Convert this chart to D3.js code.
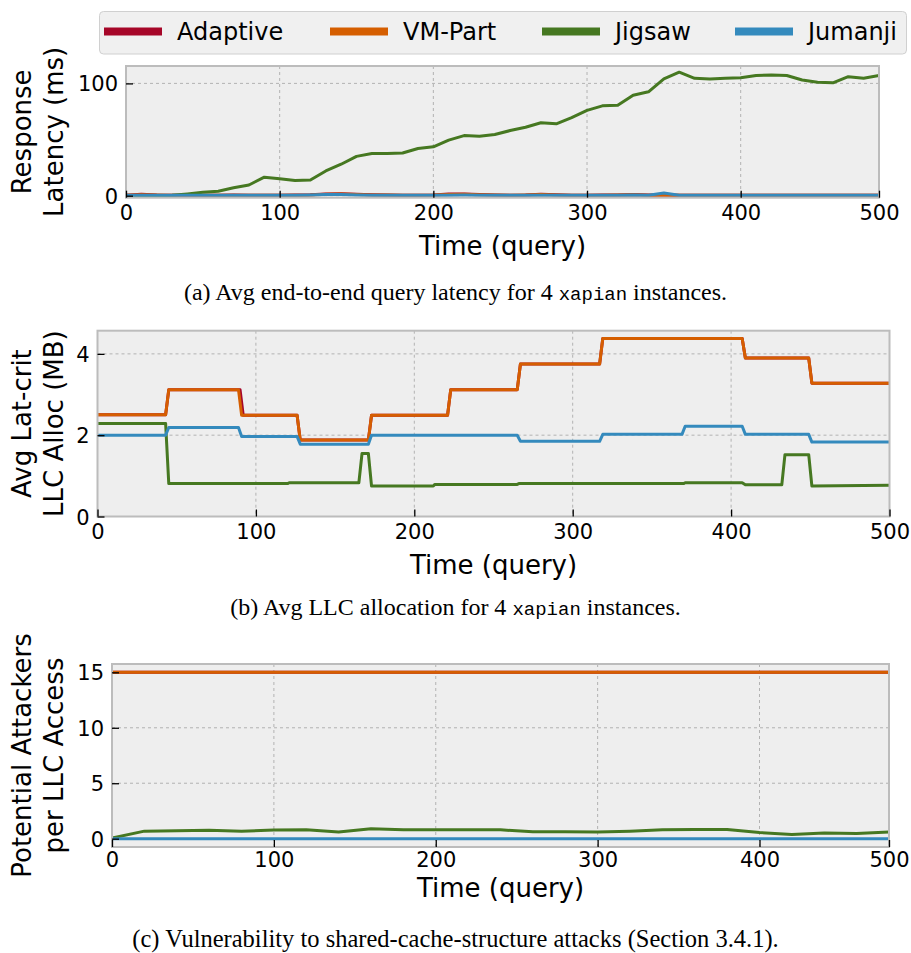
<!DOCTYPE html>
<html><head><meta charset="utf-8">
<script src="https://cdn.jsdelivr.net/npm/d3@7"></script>
<style>
html,body{margin:0;padding:0;background:#fff;}
text{font-family:"DejaVu Sans",sans-serif;}
.cap{font-family:"Liberation Serif","Times New Roman",serif;}
.mono{font-family:"Liberation Mono","DejaVu Sans Mono",monospace;}
</style></head>
<body><svg id="c" width="911" height="953"></svg>
<script>
// ---------- data ----------
const seriesNames = ["Adaptive","VM-Part","Jigsaw","Jumanji"];
const seriesColors = ["#A60628","#D55E00","#467821","#348ABD"];

// (a) response latency, sampled every 10 queries
const latX = [0,10,20,30,40,50,60,70,80,90,100,110,120,130,140,150,160,170,180,190,200,210,220,230,240,250,260,270,280,290,300,310,320,330,340,350,360,370,380,390,400,410,420,430,440,450,460,470,480,490];
const latAdaptive = [0.4,1.3,0.6,0.3,0.3,0.4,0.4,0.5,0.4,0.4,0.4,0.5,0.8,1.6,1.8,1.3,0.9,0.6,0.4,0.4,0.6,1.4,1.6,1.0,0.6,0.4,0.6,1.2,0.8,0.4,0.4,0.5,0.6,1.1,0.5,0.7,0.4,0.3,0.3,0.3,0.4,0.4,0.3,0.3,0.3,0.3,0.3,0.3,0.4,0.3];
const latVMPart   = [0.3,0.9,0.5,0.3,0.3,0.3,0.3,0.4,0.3,0.3,0.3,0.4,0.6,1.3,1.5,1.1,0.7,0.5,0.3,0.3,0.5,1.1,1.3,0.8,0.5,0.3,0.5,1.0,0.6,0.3,0.3,0.4,0.5,0.9,0.4,0.6,0.3,0.3,0.3,0.3,0.3,0.3,0.3,0.3,0.3,0.3,0.3,0.3,0.3,0.3];
const latJigsaw   = [0,0,0,0.3,1.5,3,4,7,9.5,16.5,15,13.5,14,22,28,35,37.5,37.5,38,42,43.5,49.5,53.5,53,54.5,58,61,65,64,69.5,76,80,80.5,89.5,92.5,104,110,104.5,104,104.5,105,107,107.5,107,103,101,100.5,106,104.5,107];
const latJumanji  = [0.3,0.3,0.3,0.3,0.3,0.3,0.3,0.3,0.3,0.3,0.3,0.3,0.5,1.0,1.1,0.6,0.4,0.3,0.3,0.3,0.3,0.4,0.5,0.4,0.3,0.3,0.3,0.4,0.3,0.3,0.3,0.3,0.3,0.5,0.3,2.3,0.4,0.3,0.3,0.3,0.3,0.3,0.3,0.3,0.3,0.3,0.3,0.3,0.3,0.3];

// (b) avg LLC allocation (step changes), [query, MB] breakpoints
const allocVMPartX = [0,43,45,89,91,126,128,171,173,221,223,265,267,317,319,407,409,449,451,500];
const allocVMPartY = [2.5,2.5,3.12,3.12,2.49,2.49,1.88,1.88,2.49,2.49,3.12,3.12,3.75,3.75,4.38,4.38,3.9,3.9,3.28,3.28];
const allocAdaptiveX = [0,43,45,90,92,126,128,171,173,221,223,265,267,317,319,407,409,449,451,500];
const allocAdaptiveY = [2.5,2.5,3.12,3.12,2.49,2.49,1.88,1.88,2.49,2.49,3.12,3.12,3.75,3.75,4.38,4.38,3.9,3.9,3.28,3.28];
const allocJigsawX = [0,43,45,120,121,165,167,171,173,212,213,265,266,370,371,407,409,432,434,449,451,500];
const allocJigsawY = [2.29,2.29,0.81,0.81,0.83,0.83,1.55,1.55,0.75,0.75,0.79,0.79,0.81,0.81,0.83,0.83,0.78,0.78,1.52,1.52,0.75,0.77];
const allocJumanjiX = [0,43,45,89,91,126,128,171,173,265,267,317,319,369,371,407,409,449,451,500];
const allocJumanjiY = [2.0,2.0,2.19,2.19,1.97,1.97,1.78,1.78,2.0,2.0,1.85,1.85,2.02,2.02,2.22,2.22,2.02,2.02,1.83,1.83];

// (c) potential attackers per LLC access, sampled every 20 queries
const atkX = [0,20,40,60,80,100,120,140,160,180,200,220,240,260,280,300,320,340,360,380,400,420,440,460,480];
const atkAdaptive = [15,15,15,15,15,15,15,15,15,15,15,15,15,15,15,15,15,15,15,15,15,15,15,15,15];
const atkVMPart   = [15,15,15,15,15,15,15,15,15,15,15,15,15,15,15,15,15,15,15,15,15,15,15,15,15];
const atkJigsaw   = [0.05,0.68,0.72,0.75,0.68,0.78,0.8,0.6,0.9,0.8,0.8,0.8,0.8,0.62,0.62,0.6,0.68,0.8,0.83,0.83,0.55,0.38,0.52,0.47,0.6];
const atkJumanji  = [0,0,0,0,0,0,0,0,0,0,0,0,0,0,0,0,0,0,0,0,0,0,0,0,0];

// tick labels
const xTickLabels = ["0","100","200","300","400","500"];
const xTicksA = [0,100,200,300,400,490];
const xTicksB = [0,100,200,300,400,500];
const xTicksC = [0,100,200,300,400,480];
const yTicksA = [0,100];
const yTicksB = [0,2,4];
const yTicksC = [0,5,10,15];

// ---------- drawing ----------
const svg = d3.select("#c");
svg.append("rect").attr("width",911).attr("height",953).attr("fill","#fff");

function panel(cfg){
  const x = d3.scaleLinear().domain(cfg.xDomain).range([cfg.left,cfg.right]);
  const y = d3.scaleLinear().domain(cfg.yDomain).range([cfg.bottom,cfg.top]);
  const g = svg.append("g");
  g.append("rect").attr("x",cfg.left).attr("y",cfg.top)
    .attr("width",cfg.right-cfg.left).attr("height",cfg.bottom-cfg.top).attr("fill","#eeeeee");
  // grid
  const grid = g.append("g").attr("stroke","#b2b2b2").attr("stroke-width",1).attr("stroke-dasharray","3,3");
  cfg.xTicks.forEach(t=>grid.append("line").attr("x1",x(t)).attr("x2",x(t)).attr("y1",cfg.top).attr("y2",cfg.bottom));
  cfg.yTicks.forEach(t=>grid.append("line").attr("y1",y(t)).attr("y2",y(t)).attr("x1",cfg.left).attr("x2",cfg.right));
  // series
  const clipId = "clip"+cfg.id;
  svg.append("clipPath").attr("id",clipId).append("rect")
    .attr("x",cfg.left).attr("y",cfg.top-2).attr("width",cfg.right-cfg.left).attr("height",cfg.bottom-cfg.top+3);
  const line = d3.line().x(d=>x(d[0])).y(d=>y(d[1]));
  const lg = g.append("g").attr("clip-path","url(#"+clipId+")");
  cfg.series.forEach((s,i)=>{
    const pts = s.x.map((v,k)=>[v,s.y[k]]);
    lg.append("path").attr("d",line(pts)).attr("fill","none")
      .attr("stroke",seriesColors[i]).attr("stroke-width",3).attr("stroke-linejoin","round");
  });
  // frame
  g.append("rect").attr("x",cfg.left).attr("y",cfg.top)
    .attr("width",cfg.right-cfg.left).attr("height",cfg.bottom-cfg.top)
    .attr("fill","none").attr("stroke","#bcbcbc").attr("stroke-width",2);
  // axes with inward ticks
  const xa = d3.axisBottom(x).tickValues(cfg.xTicks).tickSizeInner(-7).tickSizeOuter(0)
    .tickPadding(7).tickFormat((d,i)=>xTickLabels[i]);
  const gx = g.append("g").attr("transform","translate(0,"+cfg.bottom+")").call(xa);
  const ya = d3.axisLeft(y).tickValues(cfg.yTicks).tickSizeInner(-7).tickSizeOuter(0)
    .tickPadding(8).tickFormat(d3.format("d"));
  const gy = g.append("g").attr("transform","translate("+cfg.left+",0)").call(ya);
  [gx,gy].forEach(a=>{
    a.select(".domain").remove();
    a.selectAll(".tick line").attr("stroke","#000").attr("stroke-width",1.3);
    a.selectAll(".tick text").attr("font-family","DejaVu Sans").attr("font-size",21).attr("fill","#000");
  });
  gx.selectAll(".tick text").attr("y",cfg.xTickPad).attr("dy","0.72em");
  gy.selectAll(".tick text").attr("x",-8).attr("dy","0.36em");
  // x label
  g.append("text").attr("x",(cfg.left+cfg.right)/2).attr("y",cfg.bottom+cfg.xlabOff)
    .attr("text-anchor","middle").attr("font-size",26).text("Time (query)");
  // y label
  const yc = (cfg.top+cfg.bottom)/2;
  cfg.ylab.forEach((t,i)=>{
    g.append("text").attr("transform","translate("+(31+i*32)+","+yc+") rotate(-90)")
      .attr("text-anchor","middle").attr("font-size",26).text(t);
  });
  // caption
  const c = svg.append("text").attr("class","cap").attr("x",455.5).attr("y",cfg.capY)
    .attr("text-anchor","middle").attr("font-size",cfg.capSize);
  c.append("tspan").text(cfg.cap[0]);
  if(cfg.cap.length>1){
    c.append("tspan").attr("class","mono").attr("font-size",19).text(cfg.cap[1]);
    c.append("tspan").text(cfg.cap[2]);
  }
}

panel({id:"a",left:126,right:879,top:66,bottom:197.7,xDomain:[0,490],yDomain:[-1.8,115.5],
  xTicks:xTicksA,yTicks:yTicksA,xTickPad:7,xlabOff:57,capY:300,capSize:24,
  ylab:["Response","Latency (ms)"],
  cap:["(a) Avg end-to-end query latency for 4 ","xapian"," instances."],
  series:[{x:latX,y:latAdaptive},{x:latX,y:latVMPart},{x:latX,y:latJigsaw},{x:latX,y:latJumanji}]});

panel({id:"b",left:97.5,right:889.5,top:330.7,bottom:516.5,xDomain:[0,500],yDomain:[0,4.57],
  xTicks:xTicksB,yTicks:yTicksB,xTickPad:7,xlabOff:57,capY:615,capSize:24,
  ylab:["Avg Lat-crit","LLC Alloc (MB)"],
  cap:["(b) Avg LLC allocation for 4 ","xapian"," instances."],
  series:[{x:allocAdaptiveX,y:allocAdaptiveY},{x:allocVMPartX,y:allocVMPartY},{x:allocJigsawX,y:allocJigsawY},{x:allocJumanjiX,y:allocJumanjiY}]});

panel({id:"c",left:112,right:889,top:664,bottom:847,xDomain:[0,480],yDomain:[-0.75,15.75],
  xTicks:xTicksC,yTicks:yTicksC,xTickPad:5,xlabOff:50,capY:947,capSize:24.5,
  ylab:["Potential Attackers","per LLC Access"],
  cap:["(c) Vulnerability to shared-cache-structure attacks (Section 3.4.1)."],
  series:[{x:atkX,y:atkAdaptive},{x:atkX,y:atkVMPart},{x:atkX,y:atkJigsaw},{x:atkX,y:atkJumanji}]});

// legend
const leg = svg.append("g");
leg.append("rect").attr("x",99.5).attr("y",11.5).attr("width",807).attr("height",42.5).attr("rx",4)
  .attr("fill","#f0f0f0").attr("stroke","#d0d0d0").attr("stroke-width",1);
const legSwatchX = [104,330,542,735];
seriesNames.forEach((n,i)=>{
  leg.append("line").attr("x1",legSwatchX[i]).attr("x2",legSwatchX[i]+58).attr("y1",31.5).attr("y2",31.5)
    .attr("stroke",seriesColors[i]).attr("stroke-width",8);
  leg.append("text").attr("x",legSwatchX[i]+73).attr("y",40).attr("font-size",24).text(n);
});
</script></body></html>
